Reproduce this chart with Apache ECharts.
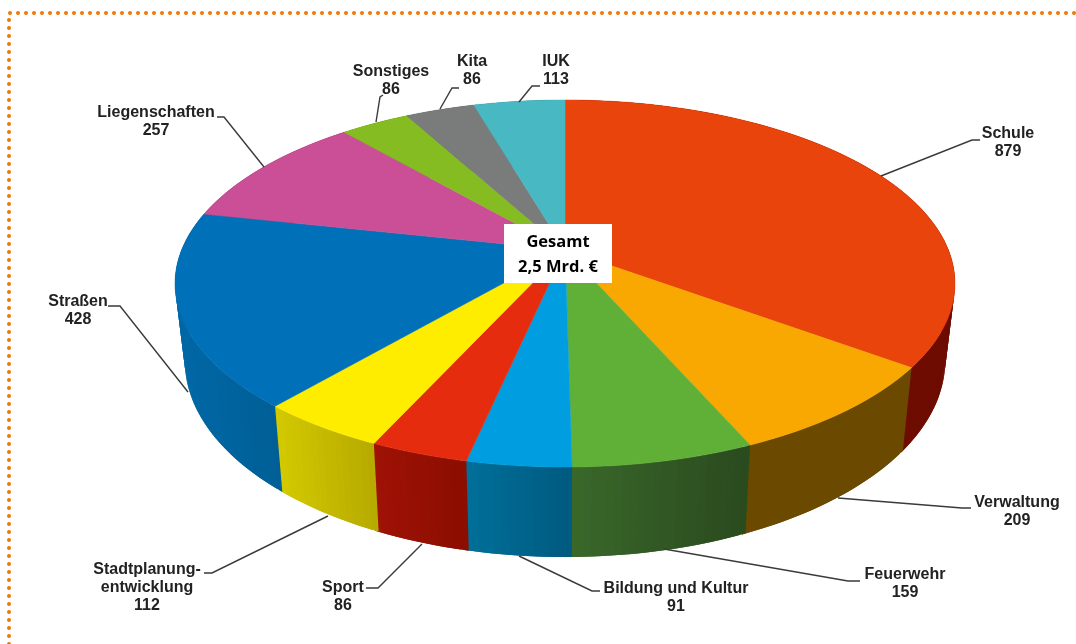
<!DOCTYPE html>
<html>
<head>
<meta charset="utf-8">
<title>Gesamt 2,5 Mrd. €</title>
<script src="https://cdn.jsdelivr.net/npm/echarts@6/dist/echarts.min.js"></script>
<style>
html, body { margin: 0; padding: 0; background: #fff; }
#chart { width: 1076px; height: 644px; }
</style>
</head>
<body>
<div id="chart"></div>
<script>
// values in Mio. €, clockwise from 12 o'clock
const categories = ['Schule', 'Verwaltung', 'Feuerwehr', 'Bildung und Kultur', 'Sport',
  'Stadtplanung-\nentwicklung', 'Straßen', 'Liegenschaften', 'Sonstiges', 'Kita', 'IUK']
const values = [879, 209, 159, 91, 86, 112, 428, 257, 86, 86, 113]
const totalLabel = 'Gesamt\n2,5 Mrd. €'

const topColors = ['#E8440C', '#F8A800', '#60B038', '#009EE0', '#E62C0E', '#FFED00',
  '#0070B8', '#CB4F96', '#85BC22', '#7A7C7C', '#48B9C3']
// side wall, screen left -> screen right
const wallColors = [
  ['#6E0C00', '#6E0C00'], ['#6B4A00', '#6B4A00'], ['#3A682A', '#2A4A1E'], ['#00709A', '#005A80'],
  ['#A01206', '#8A0E00'], ['#D4CA00', '#B6AA00'], ['#0068A6', '#005F96'], ['#8A3A68', '#8A3A68'],
  ['#5E8618', '#5E8618'], ['#555757', '#555757'], ['#338289', '#338289']
]

// label centre and leader line, same order as categories
const labelPos = [[1008, 134], [1017, 503], [905, 575], [676, 589], [343, 588],
  [147, 570], [78, 302], [156, 113], [391, 72], [472, 62], [556, 62]]
const leaders = [
  [[881, 176], [972, 140], [980, 140]],
  [[838, 498], [962, 508], [971, 508]],
  [[664, 549], [848, 581], [860, 581]],
  [[519, 556], [592, 591], [600, 591]],
  [[422, 544], [378, 588], [366, 588]],
  [[328, 516], [212, 573], [204, 573]],
  [[188, 392], [120, 306], [108, 306]],
  [[264, 167], [224, 117], [217, 117]],
  [[376, 122], [380, 97], [383, 95]],
  [[440, 109], [452, 88], [459, 88]],
  [[519, 102], [532, 86], [540, 86]]
]

// the pie is a circle seen in perspective, so centre and ellipse middle differ
const cx = 565
const cy = 250
const persp = -0.1826
const radX = 383.4
const radY = 177.4

const total = values.reduce((sum, v) => sum + v, 0)
const starts = []
values.reduce((sum, v, i) => { starts[i] = sum; return sum + v }, 0)

function topPoint(deg) {
  const rad = deg * Math.PI / 180
  const u = Math.sin(rad)
  const v = -Math.cos(rad)
  const w = 1 + persp * v
  return [cx + radX * u / w, cy + radY * v / w]
}

function bottomPoint(deg) {
  const p = topPoint(deg)
  return [cx + (p[0] - cx) * 0.975, p[1] + 90 - (467 - p[1]) * 0.07]
}

function arc(fn, from, to) {
  const pts = []
  const n = Math.max(2, Math.ceil(to - from))
  for (let i = 0; i <= n; i++) {
    pts.push(fn(from + (to - from) * i / n))
  }
  return pts
}

function sliceAngles(i) {
  return [starts[i] / total * 360, (starts[i] + values[i]) / total * 360]
}

function renderWall(params, api) {
  const i = params.dataIndex
  const a = sliceAngles(i)
  // runs a little under the next slice so no seam shows at the boundary
  const upper = arc(topPoint, a[0], a[1] + 0.5)
  const lower = arc(bottomPoint, a[0], a[1] + 0.5)
  const xs = upper.map(p => p[0])
  const minX = Math.min.apply(null, xs)
  const maxX = Math.max.apply(null, xs)
  // small overlapping quads, otherwise the silhouette at the sides gets a notch
  const children = []
  for (let k = 0; k < upper.length - 1; k++) {
    const next = Math.min(k + 2, upper.length - 1)
    const t = ((upper[k][0] + upper[k + 1][0]) / 2 - minX) / (maxX - minX)
    children.push({
      type: 'polygon',
      shape: { points: [upper[k], upper[next], lower[next], lower[k]] },
      style: { fill: echarts.color.lerp(t, wallColors[i]) }
    })
  }
  return { type: 'group', children: children }
}

function renderTop(params, api) {
  const i = params.dataIndex
  const a = sliceAngles(i)
  return {
    type: 'polygon',
    shape: { points: [[cx, cy]].concat(arc(topPoint, a[0], a[1])) },
    style: { fill: topColors[i], stroke: topColors[i], lineWidth: 0.5 }
  }
}

function renderLabel(params, api) {
  const i = params.dataIndex
  return {
    type: 'group',
    children: [
      {
        type: 'polyline',
        shape: { points: leaders[i] },
        style: { fill: null, stroke: '#3a3a3a', lineWidth: 1.4 }
      },
      {
        type: 'text',
        style: {
          text: categories[i] + '\n' + api.value(0),
          x: labelPos[i][0],
          y: labelPos[i][1] - 9,
          align: 'center',
          verticalAlign: 'top',
          font: 'bold 16px "Liberation Sans"',
          lineHeight: 18,
          fill: '#222'
        }
      }
    ]
  }
}

const rows = values.map((v, i) => [v, i])

const chart = echarts.init(document.getElementById('chart'), null, { renderer: 'canvas' })
chart.setOption({
  animation: false,
  backgroundColor: '#fff',
  tooltip: { show: false },
  series: [
    { type: 'custom', coordinateSystem: 'none', silent: true, data: rows, renderItem: renderWall },
    { type: 'custom', coordinateSystem: 'none', silent: true, data: rows, renderItem: renderTop },
    { type: 'custom', coordinateSystem: 'none', silent: true, data: rows, renderItem: renderLabel }
  ],
  graphic: [
    {
      type: 'polyline',
      z: 10,
      shape: { points: [[9, 644], [9, 13], [1076, 13]] },
      style: { fill: null, stroke: '#F07800', lineWidth: 4, lineCap: 'round', lineDash: [0.01, 7.99] }
    },
    {
      type: 'rect',
      z: 10,
      shape: { x: 504, y: 224, width: 108, height: 59 },
      style: { fill: '#fff' }
    },
    {
      type: 'text',
      z: 11,
      style: {
        text: totalLabel,
        x: 558,
        y: 230,
        align: 'center',
        verticalAlign: 'top',
        font: 'bold 16.5px "Open Sans"',
        lineHeight: 25,
        fill: '#000'
      }
    }
  ]
})
</script>
</body>
</html>
